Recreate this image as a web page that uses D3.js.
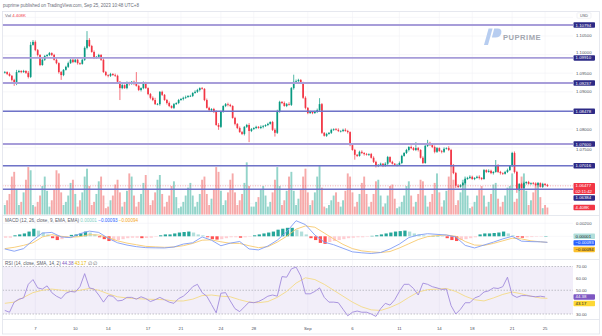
<!DOCTYPE html>
<html><head><meta charset="utf-8">
<script src="https://cdn.jsdelivr.net/npm/d3@7/dist/d3.min.js"></script>
<style>
html,body{margin:0;padding:0;background:#fff;}
svg{display:block;font-family:"Liberation Sans",Arial,sans-serif;}
</style></head><body>
<svg id="c" width="602" height="336"></svg>
<script>
// ---------------- DATA ----------------
const firstOpen = 1.0951;
const closes = [
1.0953,1.0948,1.0943,1.0932,1.0921,1.0953,1.0956,1.0953,1.0956,1.0951,1.0940,1.1026,1.1034,1.1012,1.0999,1.0972,1.0986,1.0996,
1.0999,
1.1004,1.0999,1.0986,1.0977,1.0953,1.0945,1.0959,1.0967,1.0977,1.0986,1.0980,1.0986,1.0977,1.0975,1.0986,1.1018,1.1039,1.1023,1.1007,1.0991,1.0994,1.0999,1.0986,1.0953,1.0945,1.0943,1.0948,
1.0945,
1.0943,1.0927,1.0910,1.0918,1.0910,1.0924,1.0921,1.0927,1.0921,1.0916,1.0905,1.0910,1.0924,1.0910,1.0894,1.0884,1.0878,1.0867,1.0867,1.0900,1.0892,1.0878,1.0870,1.0862,1.0857,1.0867,1.0870,1.0878,1.0881,1.0884,1.0886,
1.0889,
1.0889,1.0897,1.0900,1.0905,1.0910,1.0908,1.0878,1.0857,1.0851,1.0854,1.0846,1.0811,1.0806,1.0846,1.0862,1.0867,1.0865,1.0862,1.0830,1.0814,1.0803,1.0792,1.0787,1.0806,1.0811,1.0795,1.0800,1.0803,1.0806,1.0803,
1.0806,
1.0808,1.0811,1.0814,1.0819,1.0798,1.0790,1.0846,1.0873,1.0870,1.0862,1.0867,1.0865,1.0910,1.0927,1.0929,1.0932,1.0924,1.0884,1.0857,1.0843,1.0846,1.0843,1.0846,1.0851,1.0867,1.0790,1.0782,1.0787,1.0790,1.0798,1.0800,1.0798,
1.0795,
1.0795,1.0798,1.0795,1.0792,1.0757,1.0744,1.0731,1.0728,1.0739,1.0736,1.0733,1.0731,1.0733,1.0723,1.0712,1.0701,1.0704,1.0707,1.0701,1.0707,1.0725,1.0712,1.0707,
1.0704,
1.0704,1.0709,1.0728,1.0736,1.0744,1.0752,1.0749,1.0744,1.0749,1.0744,1.0723,1.0709,1.0755,1.0763,1.0757,1.0752,1.0739,1.0749,1.0741,1.0739,1.0747,1.0749,1.0744,1.0704,1.0682,1.0648,1.0645,1.0650,1.0655,1.0666,1.0669,1.0672,1.0666,
1.0669,
1.0672,1.0669,1.0666,1.0690,1.0685,1.0688,1.0682,1.0685,1.0701,1.0685,1.0682,1.0680,1.0685,1.0690,1.0701,1.0736,1.0685,1.0637,1.0653,1.0642,1.0655,1.0658,1.0653,1.0655,1.0653,
1.0650,
1.0655,1.0645,1.0653,1.0650,1.06477
];
// wick lengths in pips (0.0001)
const upWick = [
3,2,4,2,3,6,3,2,3,2,5,8,5,4,3,2,4,3,2,3,
2,3,4,2,3,2,3,4,2,3,2,3,2,3,4,24,5,3,4,2,
3,2,4,3,2,3,2,4,3,2,3,2,4,3,2,3,32,3,2,4,
3,2,3,4,6,3,2,3,2,3,4,2,3,2,3,2,3,4,2,3,
2,4,3,2,3,2,4,3,2,3,4,5,3,2,3,4,3,2,3,2,
4,3,2,3,5,3,2,3,2,4,3,2,3,2,3,4,6,3,2,4,
3,5,3,19,4,3,2,3,4,2,3,2,3,4,16,3,2,3,2,3,
2,3,4,2,3,4,3,2,5,3,2,3,4,2,3,2,3,4,3,2,
3,2,4,3,2,3,2,3,4,3,2,3,2,4,3,16,3,2,4,3,
8,3,2,4,3,2,3,4,2,5,3,2,3,4,2,3,2,3,4,3,
2,3,4,2,3,2,4,3,2,16,5,3,2,3,4,2,3,4,3,2,
3,4,2,3,2,3,4,3,2,3,2,3
];
const downWick = [
2,3,2,4,5,3,2,3,2,3,4,3,2,3,4,3,2,3,2,3,
3,2,3,4,13,3,2,3,2,3,2,4,3,2,3,4,3,2,3,2,
2,3,2,3,4,3,2,3,2,32,3,2,3,4,2,3,2,3,4,3,
2,3,4,3,2,3,4,3,2,4,3,2,3,2,3,2,4,3,2,3,
3,2,3,4,2,3,2,3,4,3,2,8,3,2,3,4,3,2,4,3,
2,3,4,3,30,3,2,3,2,3,4,2,3,2,3,10,3,2,3,2,
3,2,3,4,2,3,2,3,4,3,2,3,2,3,4,3,2,3,2,3,
3,2,3,4,3,2,4,3,2,13,3,2,3,4,2,3,2,3,4,3,
2,3,2,4,3,2,3,4,2,3,2,3,4,3,2,3,4,2,3,2,
3,2,3,4,3,2,4,3,2,3,6,3,6,3,2,3,4,2,3,2,
3,2,4,3,2,3,2,3,4,2,3,4,3,2,3,2,3,4,8,3,
2,3,4,2,3,2,3,4,2,3,2,3
];
// volume in thousands
const volumes = [
6,9,13,24,27, 16,6,8,14,22,30, 28,6,
5,8,12,18,24, 15,5,9,16,28,26, 14,6,8,12,20,22, 13,5,9,14,24,29, 18,6,8,13,21,24, 12,4,
5,9,12,19,22, 14,5,8,15,26,24, 12,5,8,13,20,25, 16,6,9,14,22,25, 13,5,8,12,18,21, 11,4,
5,8,12,17,20, 12,5,8,13,22,24, 13,6,10,16,30,27, 15,6,9,14,22,26, 14,6,9,13,20,33, 18,5,
5,8,11,16,18, 12,5,8,14,22,30, 18,6,9,15,24,27, 15,6,10,16,24,29, 14,6,9,14,24,31, 17,5,
4,6,9,12,14, 8,5,9,15,26,24, 14,5,8,13,20,24, 13,5,8,13,21,22, 12,5,7,12,18,19, 10,4,
5,8,12,18,21, 12,5,8,13,22,21, 12,5,8,13,20,26, 14,5,9,15,24,33, 22,6,9,14,22,24, 12,4,
5,8,12,16,18, 12,5,8,13,19,20, 10,5,8,12,17,18, 26,8,10,16,24,26, 15,6,9,14,20,20, 11,4,
6,4.408
];
// MACD (12,26,9) – one value every 4 candles, last one at the last candle
const macdLine = [-0.00195,-0.0023,-0.0019,-0.0006,0.0005,0.0006,-0.0001,-0.0002,0.0004,0.0008,0.0006,-0.0003,-0.001,-0.00135,-0.0016,-0.00175,-0.00178,-0.0018,-0.00165,-0.0012,-0.001,-0.0001,-0.0006,-0.00146,-0.00105,-0.0008,-0.00195,-0.0021,-0.0015,-0.0006,0.0007,0.0024,0.0018,0.0002,-0.0009,-0.0013,-0.00185,-0.0024,-0.00255,-0.00265,-0.0025,-0.00195,-0.0012,-0.0002,0.0002,0.0004,0.0003,0.0002,-0.0001,-0.0014,-0.0018,-0.00135,-0.0009,-0.0004,0,-0.00075,-0.00082,-0.00085,-0.00093];
const signalLine = [-0.0019,-0.0017,-0.0014,-0.001,-0.0001,0.00025,0,-0.00015,-0.00005,0.00025,0.0002,-0.0002,-0.0007,-0.00105,-0.0013,-0.00155,-0.00163,-0.0017,-0.00165,-0.00145,-0.0011,-0.0006,-0.00055,-0.00085,-0.00108,-0.0011,-0.00146,-0.00175,-0.0016,-0.0009,0,0.0011,0.0016,0.0014,0.0005,-0.0004,-0.00125,-0.0019,-0.00225,-0.0024,-0.0025,-0.00235,-0.0018,-0.00115,-0.0005,-0.00005,0.0001,0.0002,0,-0.0008,-0.00135,-0.0014,-0.0011,-0.0007,-0.0003,-0.0004,-0.0007,-0.00085,-0.00094];
// MACD histogram – one value every 2 candles
const macdHist = [
-0.00022,-0.00022,0.00015,0.00029,0.00044,0.00073,0.00117,0.00088,0.00058,0.00029,
-0.00029,-0.00058,-0.00044,-0.00022,0.00022,0.00029,0.00044,0.00073,0.00058,0.00029,
-0.00015,-0.00044,-0.00073,-0.00073,-0.00058,-0.00044,-0.00029,-0.00022,-0.00022,-0.00029,
-0.00026,
-0.00022,-0.00007,0.00015,0.00029,0.00029,0.00044,0.00058,0.00066,0.00073,0.00058,
0.00029,0.00015,-0.00015,-0.00044,-0.00051,-0.00044,-0.00029,-0.00015,-0.00015,-0.00022,
-0.00015,
-0.00007,0.00015,0.00029,0.00044,0.00058,0.00073,0.00102,0.00117,0.00131,0.00131,
0.00102,0.00073,0.00029,-0.00029,-0.00058,-0.00102,-0.00117,-0.00088,-0.00073,-0.00058,
-0.00044,-0.00029,-0.00022,-0.00015,-0.00015,-0.00007,0.00007,0.00015,0.00029,0.00044,
0.00058,0.00073,0.0008,0.00088,0.00073,0.00044,0.00029,0.00015,0.00007,
0.00007,
0.00007,0,-0.00029,-0.00058,-0.00073,-0.00058,-0.00044,-0.00029,-0.00015,0.00029,0.00044,
0.00044,0.00051,0.00058,0.00073,0.00044,0.00015,-0.00015,-0.00022,-0.00015,
-0.00012,
-0.00007,-0.00004,0.00001
];
// RSI(14) – one value every 2 candles
const rsiValues = [
33,31.5,40,42.5,43.5,55,59,52,51,53.7,48,45,43,47.5,49,48.5,53,64,52,51,
46,40,45.5,45,41,41.5,44,44,42.5,44.5,43,40.5,42,44,42,40,39,43,45,48.5,
53,55,48,45,38,31,47.5,48,41,34.5,32,36,40,39.5,40.5,42.5,45,46,45,61.5,
61,68,69.5,62,47,47,49,52,44,40,40,39.5,34,28.5,31.5,32.5,31.5,31.5,30,28,
34.5,39,37.5,42,49,55,55,51.5,46,56,55,53,52,50.7,51,37,30,34,39.5,39.5,
43.5,45,48.5,49.5,52,51.5,53,61,46,44,45.5,45.5,45,44.5,45,44.38
];
// RSI-based SMA(14) – one value every 4 candles, last one at the last candle
const rsiMA = [39,40,44,48,50,51,50,49,50,51.5,50,47,44.5,43.5,43,42.5,42.3,42,41,41,42.5,45.5,46,45,44.5,42,40,39.5,40.5,44,49,56,60.5,59,55,50,45,40,36,33.5,33,35.5,39,44,48.5,50.5,51,51.5,49,45,42,41,43.5,46.5,48.5,47,45,43.5,43.17];

const levelsLight = [1.10794, 1.09910, 1.09237, 1.07600];
const levelsDark = [1.08478, 1.07016, 1.06384];
const priceTicks = [1.06,1.065,1.07,1.075,1.08,1.085,1.09,1.095,1.10,1.105,1.11];
const macdTicks = [0.002, 0, -0.002];
const rsiTicks = [70,60,50,40,30];
const rsiBands = [70,50,30];
const timeLabels = ["7","10","14","17","21","24","28","Sep","6","11","14","18","21","25"];
const timeIndex  = [13,30,44,61,75,92,106,129,148,168,185,199,216,230];
const countdown = "02:11:42";
const headerText = "puprime published on TradingView.com, Sep 25, 2023 10:48 UTC+8";

// ---------------- CHART ----------------
const svg = d3.select("#c");
const N = closes.length;
const PL = 2.5, PR = 573, AX = 573.5;
const x = d3.scaleLinear().domain([0, N-1]).range([4.8, 547.4]);
const yP = d3.scaleLinear().domain([1.05708, 1.11156]).range([214.5, 11.5]);
const yV = d3.scaleLinear().domain([0, 40]).range([214.5, 151.3]);
const yM = d3.scaleLinear().domain([-0.00358, 0.00321]).range([259.5, 215.5]);
const yR = d3.scaleLinear().domain([25.37, 75.9]).range([319.5, 259.5]);
const UP = "#089981", DN = "#f23645";

const opens = closes.map((c,i)=> i===0 ? firstOpen : closes[i-1]);
const candles = closes.map((c,i)=>({i, o:opens[i], c,
  h: Math.max(opens[i],c) + upWick[i]*0.0001,
  l: Math.min(opens[i],c) - downWick[i]*0.0001, v: volumes[i]}));

svg.append("rect").attr("width",602).attr("height",336).attr("fill","#fff");
svg.append("text").attr("x",3).attr("y",7.2).attr("font-size",4.5).attr("fill","#6a6d78").text(headerText);

const defs = svg.append("defs");
defs.append("clipPath").attr("id","mainClip").append("rect").attr("x",PL).attr("y",11.5).attr("width",PR-PL).attr("height",203.5);

// grid
const grid = svg.append("g").attr("stroke","#f1f2f6").attr("stroke-width",0.6);
timeIndex.forEach(ti=>grid.append("line").attr("x1",x(ti)).attr("x2",x(ti)).attr("y1",11.5).attr("y2",319.5));
priceTicks.forEach(p=>{ if(yP(p)>12 && yP(p)<214) grid.append("line").attr("x1",PL).attr("x2",PR).attr("y1",yP(p)).attr("y2",yP(p)); });
macdTicks.forEach(m=>grid.append("line").attr("x1",PL).attr("x2",PR).attr("y1",yM(m)).attr("y2",yM(m)));

// watermark logo
const logo = svg.append("g");
logo.append("path").attr("d","M484,45 L488.6,28.5 L492.6,28.5 L488,45 Z").attr("fill","#b7cdf0");
logo.append("path").attr("d","M494.2,28.5 L497.6,28.5 Q502.3,28.6 501.2,33.2 Q500.1,37.6 495.6,37.6 L491.9,37.6 Z").attr("fill","#b7cdf0");
logo.append("text").attr("x",503).attr("y",39.6).attr("font-size",7.6).attr("font-weight","bold")
  .attr("letter-spacing",0.5).attr("fill","#a3a7b0").text("PUPRIME");

// main pane
const main = svg.append("g").attr("clip-path","url(#mainClip)");
main.selectAll("rect.vol").data(candles).join("rect").attr("class","vol")
  .attr("x",d=>x(d.i)-0.95).attr("width",1.9)
  .attr("y",d=>yV(d.v)).attr("height",d=>yV(0)-yV(d.v))
  .attr("fill",d=>d.c>=d.o ? "#93d4ca" : "#f6a9a9");

main.selectAll("line.wick").data(candles).join("line").attr("class","wick")
  .attr("x1",d=>x(d.i)).attr("x2",d=>x(d.i)).attr("y1",d=>yP(d.h)).attr("y2",d=>yP(d.l))
  .attr("stroke",d=>d.c>=d.o?UP:DN).attr("stroke-width",0.7);
main.selectAll("rect.body").data(candles).join("rect").attr("class","body")
  .attr("x",d=>x(d.i)-0.85).attr("width",1.7)
  .attr("y",d=>yP(Math.max(d.o,d.c)))
  .attr("height",d=>Math.max(0.6, Math.abs(yP(d.o)-yP(d.c))))
  .attr("fill",d=>d.c>=d.o?UP:DN);

// current price dotted line
const last = candles[N-1];
main.append("line").attr("x1",PL).attr("x2",PR).attr("y1",yP(last.c)).attr("y2",yP(last.c))
  .attr("stroke",DN).attr("stroke-width",0.8).attr("stroke-dasharray","1,1.5").attr("opacity",0.55);

// horizontal levels
levelsLight.forEach(l=>svg.append("line").attr("x1",PL).attr("x2",PR).attr("y1",yP(l)).attr("y2",yP(l))
  .attr("stroke","#a79dd9").attr("stroke-width",1.8));
levelsDark.forEach(l=>svg.append("line").attr("x1",PL).attr("x2",PR).attr("y1",yP(l)).attr("y2",yP(l))
  .attr("stroke","#6f73c8").attr("stroke-width",1.4));

// MACD pane
const hg = svg.append("g");
macdHist.forEach((v,j)=>{
  const prev = j>0 ? macdHist[j-1] : v;
  let col;
  if (v>=0) col = v>=prev ? "#26a69a" : "#b2dfdb";
  else col = v<prev ? "#ff5252" : "#ffcdd2";
  const idx = j*2;
  const x0 = x(idx) - 0.8, x1 = x(Math.min(idx+1, N-1)) + 0.8;
  hg.append("rect").attr("x",x0).attr("width",Math.max(1.2,x1-x0-0.7))
    .attr("y",Math.min(yM(v),yM(0))).attr("height",Math.max(0.4,Math.abs(yM(v)-yM(0)))).attr("fill",col);
});
const idx4 = k => Math.min(k*4, N-1);
const lineM = d3.line().x((d,k)=>x(idx4(k))).y(d=>yM(d));
svg.append("path").attr("d",lineM(signalLine)).attr("fill","none").attr("stroke","#f7c96e").attr("stroke-width",0.9);
svg.append("path").attr("d",lineM(macdLine)).attr("fill","none").attr("stroke","#7f9cf5").attr("stroke-width",0.9);

// RSI pane
svg.append("rect").attr("x",PL).attr("width",PR-PL).attr("y",yR(70)).attr("height",yR(30)-yR(70))
  .attr("fill","#7e57c2").attr("opacity",0.1);
rsiBands.forEach(b=>svg.append("line").attr("x1",PL).attr("x2",PR).attr("y1",yR(b)).attr("y2",yR(b))
  .attr("stroke","#9a9ca5").attr("stroke-width",0.6).attr("stroke-dasharray","1.5,1.5"));
const lineR2 = d3.line().x((d,j)=>x(Math.min(j*2,N-1))).y(d=>yR(d));
const lineR4 = d3.line().x((d,k)=>x(idx4(k))).y(d=>yR(d));
svg.append("path").attr("d",lineR4(rsiMA)).attr("fill","none").attr("stroke","#f4da86").attr("stroke-width",0.9);
svg.append("path").attr("d",lineR2(rsiValues)).attr("fill","none").attr("stroke","#a28bdc").attr("stroke-width",0.9);

// pane separators & frame
const sep = svg.append("g").attr("stroke","#e0e3eb").attr("stroke-width",0.8);
[215.5, 259.5, 319.5].forEach(y=>sep.append("line").attr("x1",PL).attr("x2",599.5).attr("y1",y).attr("y2",y));
svg.append("rect").attr("x",PL).attr("y",11.5).attr("width",597).attr("height",322.5)
  .attr("fill","none").attr("stroke","#e0e3eb").attr("stroke-width",0.8);

// legends
svg.append("text").attr("x",5).attr("y",16.5).attr("font-size",4.3).attr("fill","#5d606b")
  .call(t=>{ t.append("tspan").text("Vol  ");
             t.append("tspan").attr("fill",DN).text(volumes[N-1].toFixed(3)+"K"); });
const f5 = d3.format(".5f");
svg.append("text").attr("x",5).attr("y",221.5).attr("font-size",4.6).attr("fill","#5d606b")
  .call(t=>{ t.append("tspan").text("MACD (12, 26, close, 9, EMA, EMA)  ");
             t.append("tspan").attr("fill","#7fcfc4").text(f5(macdHist[macdHist.length-1])+"  ");
             t.append("tspan").attr("fill","#2962ff").text(f5(macdLine[macdLine.length-1])+"  ");
             t.append("tspan").attr("fill","#f5a623").text(f5(signalLine[signalLine.length-1])); });
svg.append("text").attr("x",5).attr("y",265).attr("font-size",4.6).attr("fill","#5d606b")
  .call(t=>{ t.append("tspan").text("RSI (14, close, SMA, 14, 2)  ");
             t.append("tspan").attr("fill","#7e57c2").text(rsiValues[rsiValues.length-1].toFixed(2)+"  ");
             t.append("tspan").attr("fill","#e6b800").text(rsiMA[rsiMA.length-1].toFixed(2)+"  ");
             t.append("tspan").text("\u2205  \u2205"); });

// right axis
const axis = svg.append("g");
const fs = 4.3, TH = 4.6;
function layout(list){
  list.sort((a,b)=>a.y-b.y);
  for(let k=1;k<list.length;k++){
    const p=list[k-1], c=list[k];
    const minGap = (p.h+c.h)/2 + 1.2;
    if(c.y - p.y < minGap) c.y = p.y + minGap;
  }
  return list;
}
const fmtP = d3.format(".5f");
const mainLabels = [];
levelsLight.concat(levelsDark).forEach(l=>mainLabels.push({y:yP(l), h:5.4, bg:"#2d2a86", fg:"#fff", lines:[fmtP(l)]}));
mainLabels.push({y:yP(last.c)+2.7, h:11, bg:DN, fg:"#fff", lines:[fmtP(last.c), countdown]});
mainLabels.push({y:yV(last.v), h:5.4, bg:DN, fg:"#fff", lines:[last.v.toFixed(3)+"K"]});
layout(mainLabels);
const macdLabels = layout([
  {y:yM(macdHist[macdHist.length-1]), h:5.4, bg:"#b2dfdb", fg:"#131722", lines:[f5(macdHist[macdHist.length-1])]},
  {y:yM(macdLine[macdLine.length-1]), h:5.4, bg:"#2962ff", fg:"#fff", lines:[f5(macdLine[macdLine.length-1])]},
  {y:yM(signalLine[signalLine.length-1]), h:5.4, bg:"#fbc02d", fg:"#131722", lines:[f5(signalLine[signalLine.length-1])]}
]);
const rsiLabels = layout([
  {y:yR(rsiValues[rsiValues.length-1]), h:5.4, bg:"#7e57c2", fg:"#fff", lines:[rsiValues[rsiValues.length-1].toFixed(2)]},
  {y:yR(rsiMA[rsiMA.length-1]), h:5.4, bg:"#fdd835", fg:"#131722", lines:[rsiMA[rsiMA.length-1].toFixed(2)]}
]);
const usdBox = {y:15.5, h:5.4};
const allBoxes = mainLabels.concat(macdLabels, rsiLabels, [usdBox]);

// tick labels: nudge them out of label boxes, hide if there is no room
function placeTick(y, txt){
  const clash = yy => allBoxes.find(b => Math.abs(yy-b.y) < b.h/2 + TH/2 + 0.2);
  const b = clash(y);
  if(!b){ drawTick(y,txt); return; }
  const overlap = b.h/2 + TH/2 + 0.3 - Math.abs(y-b.y);
  if(Math.abs(y-b.y) < b.h/2) return; // mostly covered -> hidden, as on the reference
  const ny = y < b.y ? b.y - b.h/2 - TH/2 - 0.3 : b.y + b.h/2 + TH/2 + 0.3;
  if(!clash(ny) && overlap < 3) drawTick(ny, txt);
}
function drawTick(y, txt){
  axis.append("text").attr("x",576).attr("y",y).attr("dy","0.36em").attr("font-size",fs).attr("fill","#4b4f5a").text(txt);
}
priceTicks.forEach(p=>{ const y=yP(p); if(y>13 && y<213) placeTick(y, f5(p)); });
macdTicks.forEach(m=>placeTick(yM(m), f5(m)));
rsiTicks.forEach(r=>placeTick(yR(r), r.toFixed(2)));

function drawBox(l){
  axis.append("rect").attr("x",AX).attr("y",l.y-l.h/2).attr("width",21.5).attr("height",l.h).attr("rx",0.8).attr("fill",l.bg);
  l.lines.forEach((s,k)=>axis.append("text").attr("x",575.6).attr("y",l.y-(l.lines.length-1)*2.7+k*5.4)
    .attr("dy","0.36em").attr("font-size",fs).attr("fill",l.fg).text(s));
}
mainLabels.forEach(drawBox);
macdLabels.forEach(drawBox);
rsiLabels.forEach(drawBox);

// USD box
axis.append("rect").attr("x",577).attr("y",usdBox.y-usdBox.h/2).attr("width",14).attr("height",usdBox.h).attr("rx",0.8)
  .attr("fill","#fff").attr("stroke","#e0e3eb").attr("stroke-width",0.5);
axis.append("text").attr("x",584).attr("y",usdBox.y).attr("dy","0.36em").attr("text-anchor","middle")
  .attr("font-size",3.8).attr("fill","#4b4f5a").text("USD");

// time axis
timeLabels.forEach((t,k)=>svg.append("text").attr("x",x(timeIndex[k])).attr("y",328)
  .attr("dy","0.36em").attr("text-anchor","middle").attr("font-size",fs).attr("fill","#4b4f5a").text(t));
</script>
</body></html>
